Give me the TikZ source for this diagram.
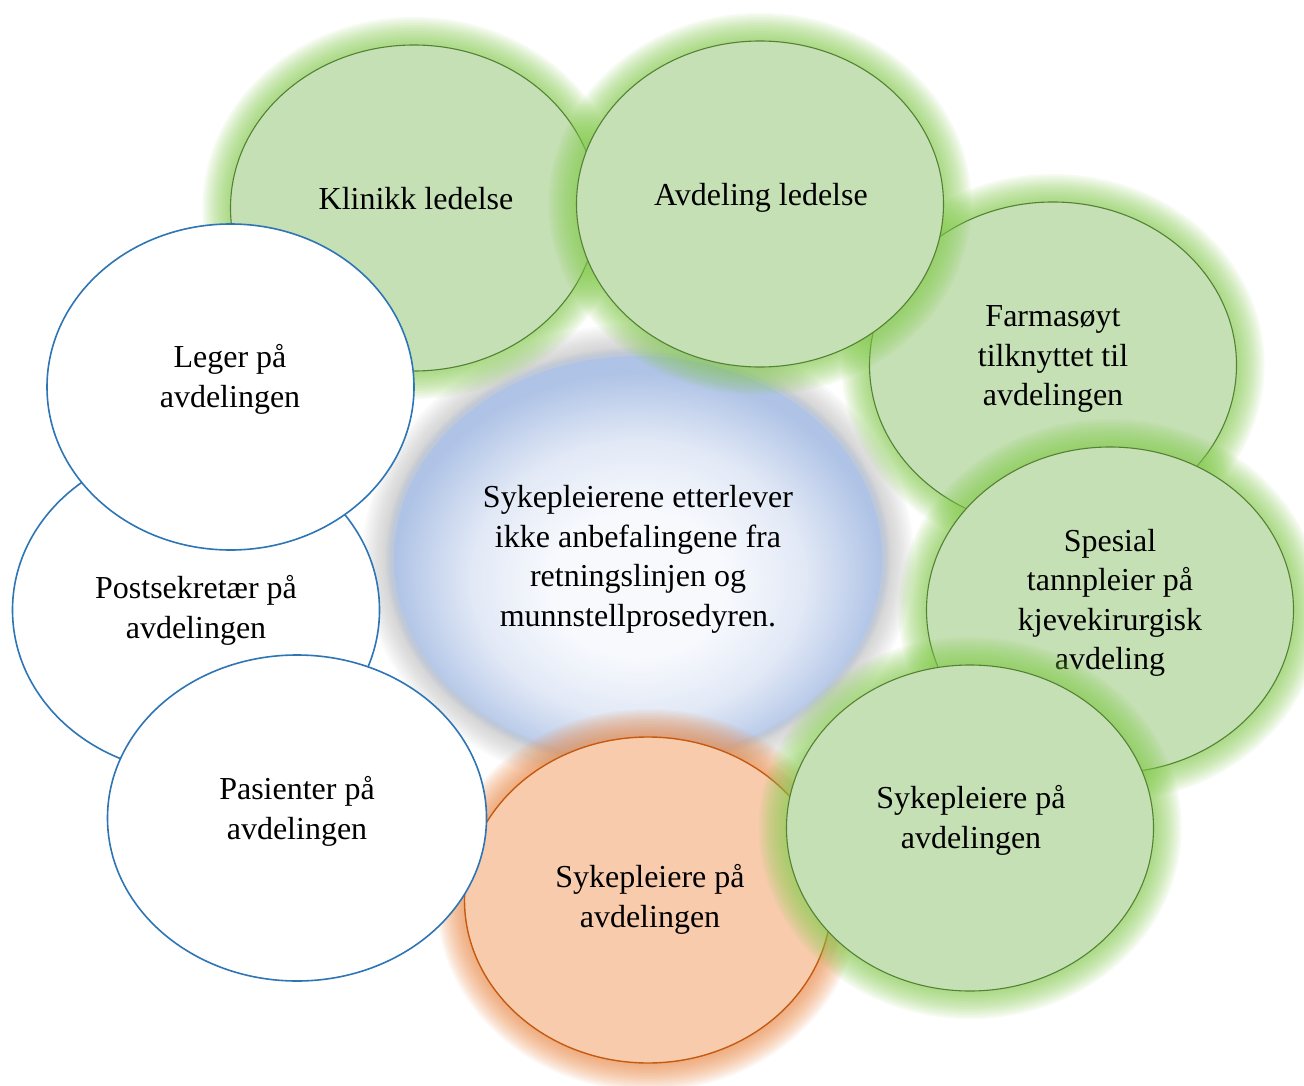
\documentclass[tikz,border=0pt]{standalone}
\usepackage{fontspec}
\setmainfont{Liberation Serif}
\usetikzlibrary{shapes.geometric}
\definecolor{gfill}{HTML}{C5E0B4}
\definecolor{gline}{HTML}{548235}
\definecolor{gglow}{HTML}{86CE4E}
\definecolor{ofill}{HTML}{F8CBAD}
\definecolor{oline}{HTML}{C55A11}
\definecolor{oglow}{HTML}{EE8A45}
\definecolor{bline}{HTML}{2E75B6}
\definecolor{cin}{HTML}{F7F9FD}
\definecolor{cmid}{HTML}{E2E9F6}
\definecolor{cout}{HTML}{AFC3E6}
\definecolor{cglow}{HTML}{A8A8A8}
\pgfdeclareradialshading{ctrshade}{\pgfpoint{0bp}{-4bp}}{color(0bp)=(cin); color(9bp)=(cin); color(17bp)=(cmid); color(25bp)=(cout); color(50bp)=(cout)}
\newcommand\glowat[7]{%
  \foreach \k in {1,...,#7}{%
    \pgfmathsetmacro\grx{#3+#6*\k}\pgfmathsetmacro\gry{#4+#6*\k}%
    \fill[#5] (#1,#2) ellipse [x radius=\grx pt, y radius=\gry pt];}}
\tikzset{
  ell/.style={ellipse, minimum width=367pt, minimum height=326pt, inner sep=0pt},
  gell/.style={ell, fill=gfill, draw=gline, line width=1.1pt},
  oell/.style={ell, fill=ofill, draw=oline, line width=1.4pt},
  well/.style={ell, fill=white, draw=bline, line width=1.6pt},
  lbl/.style={font=\fontsize{32}{39.5}\selectfont, align=center, inner sep=0pt,
    execute at begin node=\strut, execute at end node=\strut},
  gglowst/.style={gglow, opacity=0.07},
  oglowst/.style={oglow, opacity=0.07},
  cglowst/.style={cglow, opacity=0.05}
}
\begin{document}
\begin{tikzpicture}[x=1pt, y=-1pt]
\fill[white] (0,0) rectangle (1304,1086);
\useasboundingbox (0,0) rectangle (1304,1086);

% centre
\glowat{638}{558}{246}{204}{cglowst}{2.3}{13}
\foreach \k in {1,...,4}{\pgfmathsetmacro\grx{244+2*\k}\pgfmathsetmacro\gry{202+2*\k}
  \fill[cout, opacity=0.16] (638,558) ellipse [x radius=\grx pt, y radius=\gry pt];}
\node[ell, minimum width=488pt, minimum height=404pt, shading=ctrshade] (ctr) at (638,558) {};
\node[lbl] (ctrt) at (638,562) {Sykepleierene etterlever\\ikke anbefalingene fra\\retningslinjen og\\munnstellprosedyren.};

% Klinikk ledelse
\glowat{414}{208}{183.5}{163}{gglowst}{2}{14}
\node[gell] (kl) at (414,208) {};
\node[lbl] (klt) at (416,202) {Klinikk ledelse};

% Farmasoyt
\glowat{1053}{365}{183.5}{163}{gglowst}{2}{14}
\node[gell] (fa) at (1053,365) {};
\node[lbl] (fat) at (1053,361.5) {Farmasøyt\\tilknyttet til\\avdelingen};

% Avdeling ledelse
\glowat{760}{204}{183.5}{163}{gglowst}{2}{14}
\node[gell] (av) at (760,204) {};
\node[lbl] (avt) at (761,198) {Avdeling ledelse};

% Spesial tannpleier
\glowat{1110}{610}{183.5}{163}{gglowst}{2}{14}
\node[gell] (sp) at (1110,610) {};
\node[lbl] (spt) at (1110,605.5) {Spesial\\tannpleier på\\kjevekirurgisk\\avdeling};

% Sykepleiere orange
\glowat{648}{900}{183.5}{163}{oglowst}{2}{14}
\node[oell] (so) at (648,900) {};
\node[lbl] (sot) at (650,902) {Sykepleiere på\\avdelingen};

% Sykepleiere green
\glowat{970}{828}{183.5}{163}{gglowst}{2}{14}
\node[gell] (sg) at (970,828) {};
\node[lbl] (sgt) at (971,823) {Sykepleiere på\\avdelingen};

% Postsekretaer
\node[well] (po) at (196,610) {};
\node[lbl] (pot) at (196,613) {Postsekretær på\\avdelingen};

% Pasienter
\node[well, minimum width=379pt] (pa) at (297,818) {};
\node[lbl] (pat) at (297,814) {Pasienter på\\avdelingen};

% Leger
\node[well] (le) at (230.5,387) {};
\node[lbl] (let) at (230,382) {Leger på\\avdelingen};
\end{tikzpicture}
\end{document}
